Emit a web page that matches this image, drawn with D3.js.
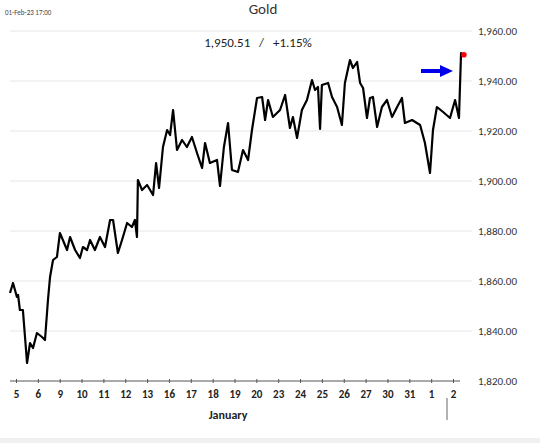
<!DOCTYPE html>
<html>
<head>
<meta charset="utf-8">
<script src="https://cdn.jsdelivr.net/npm/d3@7"></script>
<style>
  body { margin: 0; background: #fff; font-family: Calibri, "Liberation Sans", Arial, sans-serif; }
</style>
</head>
<body>
<script>
// tick labels for trading days (Jan 5 .. Feb 2)
var dayLabels = ["5","6","9","10","11","12","13","16","17","18","19","20","23","24","25","26","27","30","31","1","2"];
// position in trading-day units (0 = "5" tick)
var times = [-0.26,-0.13,0.04,0.09,0.17,0.30,0.48,0.61,0.74,0.91,1.13,1.26,1.39,1.48,1.61,1.78,1.91,2.22,2.35,2.57,2.78,2.91,3.09,3.22,3.43,3.65,3.87,4.09,4.22,4.43,4.61,4.83,5.04,5.17,5.26,5.30,5.48,5.70,5.96,6.09,6.22,6.39,6.57,6.70,6.83,7.00,7.22,7.43,7.65,7.87,8.09,8.22,8.43,8.74,8.87,9.04,9.22,9.39,9.65,9.87,10.09,10.26,10.48,10.70,10.83,10.96,11.17,11.48,11.70,11.91,12.04,12.22,12.43,12.65,12.87,13.00,13.13,13.22,13.30,13.57,13.74,13.96,14.17,14.30,14.52,14.65,14.83,14.96,15.09,15.26,15.39,15.52,15.70,15.91,16.13,16.35,16.57,16.78,16.91,17.22,17.57,17.78,18.00,18.13,18.30,18.57,18.87,19.09,19.26,19.35,19.43];
var prices = [1855.2,1859.2,1853.6,1854.4,1848.4,1848.4,1827.2,1835.2,1833.2,1839.2,1837.6,1836.4,1852.4,1861.6,1868.4,1869.6,1879.2,1872.4,1877.6,1872.4,1869.2,1873.6,1872.4,1876.4,1872.4,1877.6,1873.6,1884.4,1884.4,1871.2,1876.4,1883.2,1881.6,1884.4,1877.6,1900.4,1896.4,1898.4,1894.4,1907.2,1897.2,1913.6,1920.4,1918.4,1928.4,1912.4,1916.4,1913.6,1917.6,1911.2,1905.2,1915.2,1907.2,1908.4,1898.0,1913.6,1923.2,1904.4,1903.6,1912.4,1908.4,1920.4,1933.2,1933.6,1924.4,1932.4,1925.6,1928.4,1934.4,1921.2,1925.6,1917.2,1928.4,1932.4,1940.4,1936.4,1937.6,1920.8,1938.4,1939.2,1933.6,1929.6,1922.4,1939.2,1948.4,1945.2,1947.6,1939.2,1937.2,1925.2,1933.2,1933.6,1921.6,1929.6,1932.4,1925.6,1929.6,1933.2,1923.2,1924.4,1922.4,1915.2,1903.2,1920.4,1929.6,1927.6,1925.2,1932.4,1925.2,1951.2,1950.51];
var yTicks = [1820,1840,1860,1880,1900,1920,1940,1960];
var lastPrice = 1950.51, pctChange = "+1.15%";

var W = 540, H = 443;
var svg = d3.select("body").append("svg").attr("width", W).attr("height", H);

var x = d3.scaleLinear().domain([0, 19]).range([16, 453]);
var y = d3.scaleLinear().domain([1820, 1960]).range([381, 31]);

// gridlines
svg.selectAll(".grid").data(yTicks.slice(1)).enter().append("line")
    .attr("x1", 10).attr("x2", 472)
    .attr("y1", function(d) { return y(d); }).attr("y2", function(d) { return y(d); })
    .style("stroke", "#e6e6e6").style("stroke-width", 1);

// right axis labels
svg.selectAll(".ylab").data(yTicks).enter().append("text")
    .attr("x", 478).attr("y", function(d) { return y(d) + 4; })
    .attr("font-size", 11).attr("fill", "#333")
    .text(function(d) { return d3.format(",.2f")(d); });

// bottom axis, one tick per trading day
var xAxis = d3.axisBottom(x).tickValues(d3.range(dayLabels.length).map(function(i) { return i * 19 / 20; }))
    .tickFormat(function(d, i) { return dayLabels[i]; }).tickSize(4).tickSizeOuter(0);
var gx = svg.append("g").attr("transform", "translate(0," + 381 + ")").call(xAxis);
gx.select(".domain").attr("d", "M10,0H460").style("stroke", "#555");
gx.selectAll(".tick line").attr("y1", -2).attr("y2", 2).style("stroke", "#555");
gx.selectAll(".tick text").attr("dy", "0.9em").attr("font-size", 11)
    .attr("font-weight", "bold").attr("font-family", "Calibri, 'Liberation Sans', Arial, sans-serif").attr("fill", "#222");

svg.append("text").attr("x", 228).attr("y", 419).attr("text-anchor", "middle")
    .attr("font-size", 12).attr("font-weight", "bold").attr("fill", "#222").text("January");
svg.append("line").attr("x1", 447).attr("x2", 447).attr("y1", 398).attr("y2", 420)
    .style("stroke", "#666");

// price line
var pts = times.map(function(t, i) { return [t, prices[i]]; });
var line = d3.line().x(function(d) { return x(d[0]); }).y(function(d) { return y(d[1]); });
svg.append("path").datum(pts).attr("d", line)
    .style("fill", "none").style("stroke", "#000").style("stroke-width", 2.2).style("stroke-linejoin", "round");

svg.append("circle").attr("cx", x(times[times.length - 1]) + 1).attr("cy", y(lastPrice))
    .attr("r", 2.8).style("fill", "red");

// arrow
svg.append("line").attr("x1", 421).attr("x2", 442).attr("y1", y(1944)).attr("y2", y(1944))
    .style("stroke", "#0000ee").style("stroke-width", 4);
svg.append("path").attr("d", "M440," + (y(1944) - 6) + "L453," + y(1944) + "L440," + (y(1944) + 6) + "Z")
    .style("fill", "#0000ee");

// titles
svg.append("text").attr("x", 263).attr("y", 14).attr("text-anchor", "middle")
    .attr("font-size", 15).attr("fill", "#333").text("Gold");
svg.append("text").attr("x", 258).attr("y", 47).attr("text-anchor", "middle")
    .attr("font-size", 13).attr("fill", "#222").style("white-space", "pre")
    .text(d3.format(",.2f")(lastPrice) + "   /   " + pctChange);
svg.append("text").attr("x", 5).attr("y", 15).attr("font-size", 7).attr("fill", "#444")
    .text("01-Feb-23 17:00");

svg.append("rect").attr("x", 0).attr("y", 438).attr("width", W).attr("height", 5).style("fill", "#f0f0f0");
</script>
</body>
</html>
